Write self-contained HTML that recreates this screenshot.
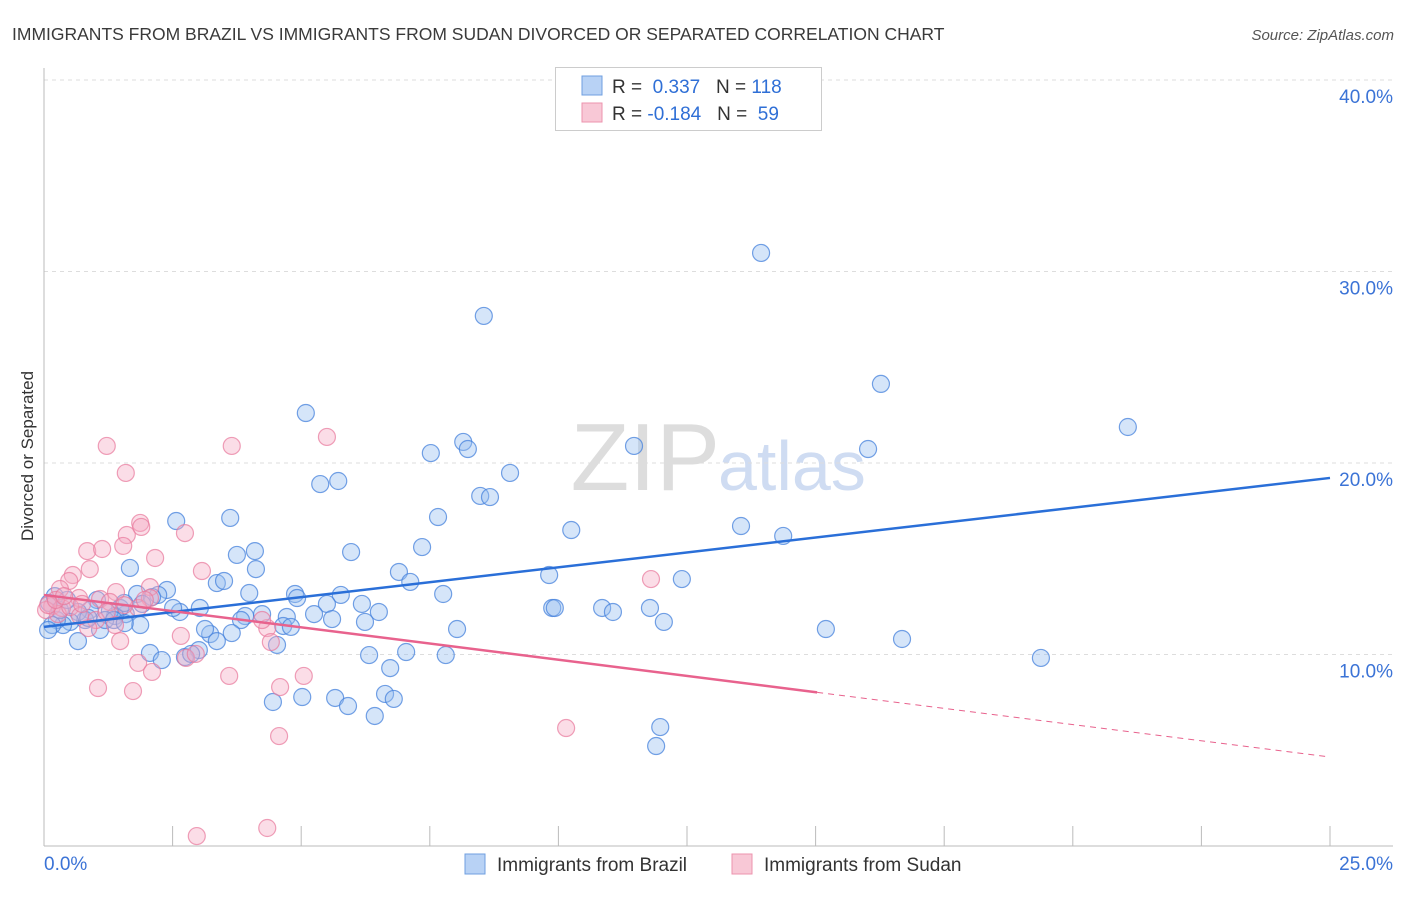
<!DOCTYPE html>
<html><head><meta charset="utf-8"><style>
body{margin:0;background:#fff;font-family:"Liberation Sans",sans-serif}
svg text{font-family:"Liberation Sans",sans-serif}
</style></head><body>
<svg id="chart" width="1406" height="892" viewBox="0 0 1406 892" xmlns="http://www.w3.org/2000/svg">
<text x="12" y="40" font-size="17.5" fill="#3a3a3a">IMMIGRANTS FROM BRAZIL VS IMMIGRANTS FROM SUDAN DIVORCED OR SEPARATED CORRELATION CHART</text>
<text x="1394" y="40" font-size="15" fill="#555" text-anchor="end" font-style="italic">Source: ZipAtlas.com</text>
<text transform="translate(33,456) rotate(-90)" font-size="17" fill="#333" text-anchor="middle">Divorced or Separated</text>
<text x="720" y="490" font-size="96" text-anchor="end" fill="#ddd" font-family="Liberation Serif">ZIP</text>
<text x="718" y="490" font-size="70" fill="#cfdcf2">atlas</text>
<g id="grid"></g><g id="axes"></g><g id="pts"></g><g id="lines"></g>
<g>
<rect x="555.5" y="67.5" width="266" height="63" fill="#fff" stroke="#ccc"/>
<rect x="582" y="76" width="20" height="19" fill="#b8d2f5" stroke="#6f9fe0"/>
<rect x="582" y="103" width="20" height="19" fill="#f8c8d6" stroke="#ec93ae"/>
<text x="612" y="93" font-size="19" fill="#333">R = <tspan fill="#2f6fd6">&#160;0.337</tspan>&#160;&#160;&#160;N = <tspan fill="#2f6fd6">118</tspan></text>
<text x="612" y="120" font-size="19" fill="#333">R = <tspan fill="#2f6fd6">-0.184</tspan>&#160;&#160;&#160;N = <tspan fill="#2f6fd6">&#160;59</tspan></text>
</g>
<g>
<rect x="465" y="854" width="20" height="20" fill="#b8d2f5" stroke="#6f9fe0"/>
<text x="497" y="871" font-size="19" fill="#333">Immigrants from Brazil</text>
<rect x="732" y="854" width="20" height="20" fill="#f8c8d6" stroke="#ec93ae"/>
<text x="764" y="871" font-size="19" fill="#333">Immigrants from Sudan</text>
</g>
</svg>
<script>
const yTicks=[10,20,30,40];
const yTickLabels=["10.0%","20.0%","30.0%","40.0%"];
const xTickVals=[0,2.5,5,7.5,10,12.5,15,17.5,20,22.5,25];
const brazilX=[13.94,8.55,16.27,21.07,5.09,8.15,8.24,7.52,11.47,16.02,9.06,5.37,5.72,8.48,8.67,7.66,3.62,2.57,10.25,13.55,14.37,5.97,3.75,4.10,7.35,1.67,4.12,6.90,7.12,9.82,12.40,3.36,3.50,2.39,2.22,1.81,2.10,3.99,4.88,4.92,5.77,7.76,5.50,6.18,9.88,9.93,10.85,11.06,11.78,12.05,15.20,16.68,19.38,8.03,6.51,6.24,5.60,5.25,4.72,4.65,4.80,4.24,3.91,3.83,3.03,2.64,2.51,1.91,1.59,1.48,1.38,1.28,1.03,0.89,0.80,0.66,0.51,0.37,0.25,0.16,0.10,0.21,0.66,1.09,1.19,3.65,3.23,3.13,3.36,4.53,3.01,2.06,2.29,2.74,2.86,6.32,7.04,7.81,6.73,6.63,6.80,5.02,4.45,5.66,5.91,6.43,11.98,11.90,1.36,1.56,1.87,0.31,0.08,0.45,0.86,1.57];
const brazilY=[30.97,27.68,24.13,21.88,22.61,21.10,20.73,20.52,20.89,20.73,19.48,18.90,19.06,18.28,18.22,17.18,17.13,16.97,16.50,16.71,16.19,15.35,15.20,15.40,15.61,14.52,14.46,14.31,13.79,14.15,13.94,13.73,13.84,13.37,13.11,13.16,13.00,13.21,13.16,12.95,13.11,13.16,12.64,12.64,12.43,12.43,12.43,12.22,12.43,11.70,11.33,10.81,9.82,11.33,12.22,11.70,11.85,12.11,11.96,11.49,11.44,12.11,12.01,11.80,12.43,12.22,12.43,12.64,12.11,12.43,12.01,12.27,12.85,12.32,11.80,12.22,11.70,11.54,11.80,11.54,12.69,13.05,10.70,11.28,11.80,11.12,11.07,11.33,10.70,10.50,10.23,10.08,9.71,9.87,10.03,9.97,10.13,9.97,9.29,7.94,7.68,7.78,7.52,7.73,7.31,6.79,6.21,5.22,11.80,12.69,11.54,12.32,11.28,12.85,11.91,11.64];
const sudanX=[1.22,3.65,5.50,1.59,1.87,1.89,1.61,2.74,0.84,1.13,1.54,2.16,0.89,0.56,3.07,0.49,0.31,2.06,1.40,0.68,1.09,0.16,0.35,0.27,0.51,0.04,0.08,1.28,2.06,1.83,1.38,1.01,0.86,1.48,2.66,2.76,2.95,4.34,4.24,4.41,3.60,1.83,2.10,1.05,1.73,4.59,5.05,11.80,10.15,4.57,2.97,4.34,0.23,0.39,0.70,1.22,1.56,1.96,0.74];
const sudanY=[20.89,20.89,21.36,19.48,16.87,16.66,16.24,16.34,15.40,15.51,15.67,15.04,14.46,14.15,14.36,13.84,13.42,13.52,13.26,12.95,12.90,12.53,12.43,12.11,12.48,12.32,12.58,12.74,12.95,12.43,11.54,11.80,11.38,10.70,10.97,9.82,10.03,11.38,11.80,10.65,8.88,9.56,9.09,8.25,8.09,8.30,8.88,13.94,6.16,5.74,0.52,0.94,12.85,13.05,12.01,12.22,12.58,12.85,12.64];
const brazilTrend=[11.44,19.22];
const sudanTrend=[13.11,4.65];
const sudanSolidEnd=15.03;
const NS="http://www.w3.org/2000/svg";
const X0=44,X1=1330,Y0=846,PPY=19.15;
function sx(v){return X0+(X1-X0)*v/25;}
function sy(v){return Y0-v*PPY;}
function mk(tag,attrs,parent){const e=document.createElementNS(NS,tag);for(const k in attrs)e.setAttribute(k,attrs[k]);parent.appendChild(e);return e;}
const grid=document.getElementById('grid'),axes=document.getElementById('axes'),pts=document.getElementById('pts'),lines=document.getElementById('lines');
yTicks.forEach((t,i)=>{
 const l=mk('line',{x1:X0,x2:1393,y1:sy(t),y2:sy(t),stroke:'#ddd','stroke-dasharray':'4,4'},grid);
 
 
 const tx=mk('text',{x:1393,y:sy(t)+23,'font-size':19,fill:'#3b73d6','text-anchor':'end'},axes);
 tx.textContent=yTickLabels[i];
 
 
});
const ya=mk('line',{x1:X0,x2:X0,y1:68,y2:Y0,stroke:'#bbb'},axes);


const xa=mk('line',{x1:X0,x2:1393,y1:Y0,y2:Y0,stroke:'#bbb'},axes);


xTickVals.forEach(v=>{
 const t=mk('line',{x1:sx(v),x2:sx(v),y1:Y0,y2:Y0-20,stroke:'#bbb'},axes);
 
 
});
const xl=mk('text',{x:X0,y:870,'font-size':19,fill:'#3b73d6'},axes);xl.textContent='0.0%';


const xr=mk('text',{x:1393,y:870,'font-size':19,fill:'#3b73d6','text-anchor':'end'},axes);xr.textContent='25.0%';


function dots(xs,ys,fill,stroke,name){xs.forEach((x,i)=>{
 const c=mk('circle',{cx:sx(x),cy:sy(ys[i]),r:8.5,fill:fill,stroke:stroke,'stroke-width':1.2},pts);
 
 
});}
dots(brazilX,brazilY,'rgba(150,190,240,0.4)','rgba(70,130,220,0.75)','brazil-point');
dots(sudanX,sudanY,'rgba(245,170,195,0.4)','rgba(232,120,155,0.7)','sudan-point');
const bl=mk('line',{x1:sx(0),y1:sy(brazilTrend[0]),x2:sx(25),y2:sy(brazilTrend[1]),stroke:'#2a6fd8','stroke-width':2.5},lines);


const sm=sudanTrend[0]+(sudanTrend[1]-sudanTrend[0])*sudanSolidEnd/25;
const pl=mk('line',{x1:sx(0),y1:sy(sudanTrend[0]),x2:sx(sudanSolidEnd),y2:sy(sm),stroke:'#e8628d','stroke-width':2.5},lines);


const pd=mk('line',{x1:sx(sudanSolidEnd),y1:sy(sm),x2:sx(25),y2:sy(sudanTrend[1]),stroke:'#e8628d','stroke-width':1,'stroke-dasharray':'6,5'},lines);


</script>
</body></html>
